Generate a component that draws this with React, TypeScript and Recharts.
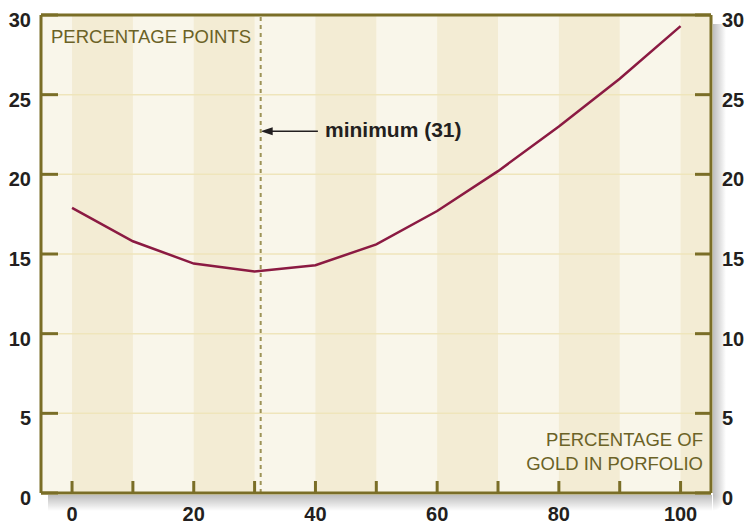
import { ComposedChart, Line, XAxis, YAxis, ReferenceArea, ReferenceLine } from "recharts";

const goldShare = [0, 10, 20, 30, 40, 50, 60, 70, 80, 90, 100];
const riskPoints = [17.9, 15.8, 14.4, 13.9, 14.3, 15.6, 17.7, 20.2, 23.0, 26.0, 29.3];
const xTicks = [0, 10, 20, 30, 40, 50, 60, 70, 80, 90, 100];
const xLabelled = [0, 20, 40, 60, 80, 100];
const yTicks = [0, 5, 10, 15, 20, 25, 30];
const gridValues = [5, 10, 15, 20, 25];
const darkBands = [
  [0, 10],
  [20, 30],
  [40, 50],
  [60, 70],
  [80, 90],
  [100, 105],
];
const xDomain = [-5.1, 105];
const minimumAt = 31;
const arrowY = 22.7;
const arrowTail = 40.4;

const OLIVE = "#7a6e27";
const TEXT_OLIVE = "#6b6226";
const LIGHT = "#f9f6ea";
const DARK = "#f3ecd4";
const GRID = "#efe5bb";
const LINE = "#8b1a42";
const FONT = "'Liberation Sans', Arial, Helvetica, sans-serif";

const data = goldShare.map((g, i) => ({ gold: g, points: riskPoints[i] }));

function LeftTick({ x, y, payload }: any) {
  return (
    <g>
      <line x1={x} x2={x + 17} y1={y} y2={y} stroke={OLIVE} strokeWidth={3} />
      <text x={x - 10} y={y + 5} textAnchor="end" dominantBaseline="central" fontFamily={FONT} fontWeight="bold" fontSize={20} fill="#231f20">
        {payload.value}
      </text>
    </g>
  );
}

function RightTick({ x, y, payload }: any) {
  return (
    <g>
      <line x1={x - 16} x2={x} y1={y} y2={y} stroke={OLIVE} strokeWidth={3} />
      <text x={x + 11} y={y + 5} textAnchor="start" dominantBaseline="central" fontFamily={FONT} fontWeight="bold" fontSize={20} fill="#231f20">
        {payload.value}
      </text>
    </g>
  );
}

function BottomTick({ x, y, payload }: any) {
  const show = xLabelled.includes(payload.value);
  return (
    <g>
      <line x1={x} x2={x} y1={y} y2={y - 12} stroke={OLIVE} strokeWidth={3} />
      {show && (
        <text x={x} y={y + 21} textAnchor="middle" dominantBaseline="central" fontFamily={FONT} fontWeight="bold" fontSize={20} fill="#231f20">
          {payload.value}
        </text>
      )}
    </g>
  );
}

function ArrowShape(props: any) {
  const { x1, y1, x2, y2 } = props;
  const tipX = Math.min(x1, x2);
  const tailX = Math.max(x1, x2);
  const yy = (y1 + y2) / 2;
  return (
    <g>
      <line x1={tipX + 8} x2={tailX} y1={yy} y2={yy} stroke="#231f20" strokeWidth={1.5} />
      <path d={`M${tipX},${yy} L${tipX + 12},${yy - 4} L${tipX + 12},${yy + 4} Z`} fill="#231f20" />
    </g>
  );
}

const shadowBase: React.CSSProperties = { position: "absolute", pointerEvents: "none" };

export default function App() {
  return (
    <div style={{ position: "relative", width: 748, height: 525, fontFamily: FONT }}>
      <style>{`body{margin:0}`}</style>
      <ComposedChart width={748} height={525} data={data} margin={{ top: 15, right: 0, bottom: 0, left: 0 }}>
        <XAxis
          dataKey="gold"
          type="number"
          domain={xDomain}
          allowDataOverflow
          ticks={xTicks}
          interval={0}
          tick={BottomTick}
          tickSize={0}
          tickMargin={0}
          tickLine={false}
          axisLine={{ stroke: OLIVE, strokeWidth: 3 }}
          height={32}
        />
        <YAxis
          yAxisId="left"
          orientation="left"
          type="number"
          domain={[0, 30]}
          ticks={yTicks}
          interval={0}
          tick={LeftTick}
          tickSize={0}
          tickMargin={0}
          tickLine={false}
          axisLine={{ stroke: OLIVE, strokeWidth: 3 }}
          width={41}
        />
        <YAxis
          yAxisId="right"
          orientation="right"
          type="number"
          domain={[0, 30]}
          ticks={yTicks}
          interval={0}
          tick={RightTick}
          tickSize={0}
          tickMargin={0}
          tickLine={false}
          axisLine={{ stroke: OLIVE, strokeWidth: 3 }}
          width={37}
        />
        <ReferenceArea yAxisId="left" x1={xDomain[0]} x2={xDomain[1]} y1={0} y2={30} fill={LIGHT} fillOpacity={1} stroke="none" ifOverflow="hidden" />
        {darkBands.map(([a, b]) => (
          <ReferenceArea key={a} yAxisId="left" x1={a} x2={b} y1={0} y2={30} fill={DARK} fillOpacity={1} stroke="none" ifOverflow="hidden" />
        ))}
        {gridValues.map((v) => (
          <ReferenceLine key={v} yAxisId="left" y={v} stroke={GRID} strokeWidth={1.5} />
        ))}
        <ReferenceLine
          yAxisId="left"
          segment={[
            { x: minimumAt, y: arrowY },
            { x: arrowTail, y: arrowY },
          ]}
          shape={ArrowShape}
        />
        <ReferenceLine yAxisId="left" y={30} stroke={OLIVE} strokeWidth={3} />
        <Line yAxisId="left" dataKey="points" stroke={LINE} strokeWidth={2.5} dot={false} isAnimationActive={false} />
        <Line yAxisId="right" dataKey="points" stroke="none" strokeWidth={0} dot={false} activeDot={false} legendType="none" isAnimationActive={false} />
        <ReferenceLine yAxisId="left" x={minimumAt} stroke="#9d9357" strokeWidth={2} strokeDasharray="4 4" />
      </ComposedChart>
      {/* drop shadow under the plot frame */}
      <div
        style={{
          ...shadowBase,
          left: 48,
          top: 495,
          width: 664,
          height: 16,
          background: "linear-gradient(to bottom, rgba(0,0,0,0.26), rgba(0,0,0,0))",
        }}
      />
      <div
        style={{
          ...shadowBase,
          left: 713,
          top: 24,
          width: 13,
          height: 471,
          background: "linear-gradient(to right, rgba(0,0,0,0.26), rgba(0,0,0,0))",
        }}
      />
      <div
        style={{
          ...shadowBase,
          left: 713,
          top: 495,
          width: 13,
          height: 16,
          background: "radial-gradient(ellipse at top left, rgba(0,0,0,0.26), rgba(0,0,0,0) 70%)",
        }}
      />
      <div style={{ position: "absolute", left: 51, top: 27, fontSize: 18.5, color: TEXT_OLIVE, whiteSpace: "nowrap", lineHeight: "20px" }}>
        PERCENTAGE POINTS
      </div>
      <div style={{ position: "absolute", left: 325, top: 118, fontSize: 21, fontWeight: "bold", color: "#231f20", whiteSpace: "nowrap", lineHeight: "24px" }}>
        minimum (31)
      </div>
      <div
        style={{
          position: "absolute",
          right: 748 - 703,
          top: 428,
          fontSize: 18.5,
          color: TEXT_OLIVE,
          textAlign: "right",
          whiteSpace: "nowrap",
          lineHeight: "24px",
        }}
      >
        PERCENTAGE OF
        <br />
        GOLD IN PORFOLIO
      </div>
    </div>
  );
}
